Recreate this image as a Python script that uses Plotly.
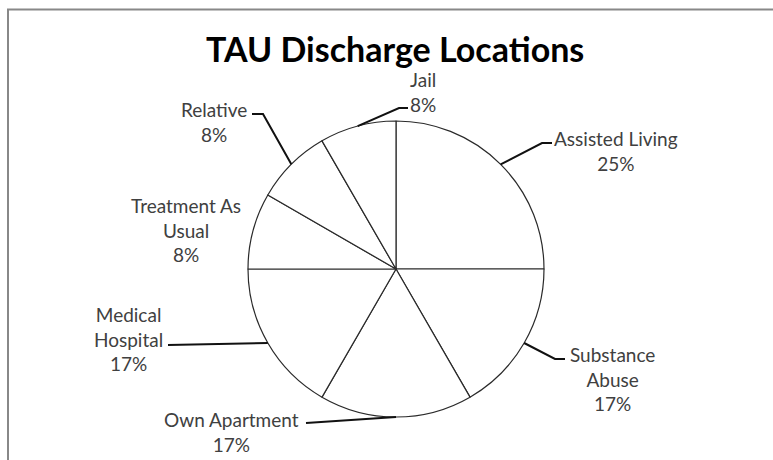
import math
import plotly.graph_objects as go

# ---- data ----
categories = ["Assisted Living", "Substance Abuse", "Own Apartment", "Medical Hospital",
              "Treatment As Usual", "Relative", "Jail"]
counts = [3, 2, 2, 2, 1, 1, 1]
label_text = ["Assisted Living", "Substance<br>Abuse", "Own Apartment", "Medical<br>Hospital",
              "Treatment As<br>Usual", "Relative", "Jail"]

# ---- layout constants (pixels) ----
W, H = 773, 460
CX, CY, R = 396, 269, 148
# label block centres
label_pos = {
    "Assisted Living": (616, 151),
    "Substance Abuse": (612, 379),
    "Own Apartment": (231, 432),
    "Medical Hospital": (128, 339),
    "Treatment As Usual": (186, 230),
    "Relative": (214, 122),
    "Jail": (423, 92),
}
# leader line: (elbow, end) in pixels; None = no leader
leaders = {
    "Assisted Living": ((542, 143), (552, 143)),
    "Substance Abuse": ((555, 359), (565, 359)),
    "Own Apartment": ((306, 423), (306, 423)),
    "Medical Hospital": ((168, 345), (168, 345)),
    "Treatment As Usual": None,
    "Relative": ((263, 114), (252, 114)),
    "Jail": ((399, 108), (408, 108)),
}

def px(x):
    return x / W

def py(y):
    return 1 - y / H

total = sum(counts)
percents = [round(v / total * 100) for v in counts]

fig = go.Figure(go.Pie(
    labels=categories,
    values=counts,
    sort=False,
    direction="clockwise",
    rotation=0,
    textinfo="none",
    hoverinfo="skip",
    marker=dict(colors=["#ffffff"] * len(counts), line=dict(color="#2a2a2a", width=1.2)),
    domain=dict(x=[px(CX - R), px(CX + R)], y=[py(CY + R), py(CY - R)]),
    showlegend=False,
))

annotations = []
shapes = []
cum = 0
for cat, txt, v, pct in zip(categories, label_text, counts, percents):
    mid = (cum + v / 2) / total * 2 * math.pi
    cum += v
    ex = CX + R * math.sin(mid)
    ey = CY - R * math.cos(mid)
    lx, ly = label_pos[cat]
    annotations.append(dict(
        x=px(lx), y=py(ly), xref="paper", yref="paper",
        text=f"{txt}<br>{pct}%", showarrow=False,
        xanchor="center", yanchor="middle", align="center",
        font=dict(family="Lato", size=19, color="#404040"),
    ))
    ld = leaders[cat]
    if ld is not None:
        (bx, by), (tx, ty) = ld
        path = f"M {px(ex)} {py(ey)} L {px(bx)} {py(by)} L {px(tx)} {py(ty)}"
        shapes.append(dict(type="path", path=path, xref="paper", yref="paper",
                           line=dict(color="#111111", width=2)))

annotations.append(dict(
    x=px(395), y=py(49), xref="paper", yref="paper",
    text="<b>TAU Discharge Locations</b>", showarrow=False,
    xanchor="center", yanchor="middle",
    font=dict(family="Lato", size=34, color="#000000"),
))

shapes.append(dict(type="rect", xref="paper", yref="paper",
                   x0=px(8), x1=1.05, y0=-0.05, y1=py(9.5),
                   line=dict(color="#888888", width=2), fillcolor="rgba(0,0,0,0)"))

fig.update_layout(
    width=W, height=H,
    margin=dict(l=0, r=0, t=0, b=0),
    paper_bgcolor="white",
    plot_bgcolor="white",
    annotations=annotations,
    shapes=shapes,
)

fig.write_html("out.html",
               config={"displayModeBar": False, "staticPlot": True},
               post_script="document.body.style.margin='0';document.body.style.overflow='hidden';")
